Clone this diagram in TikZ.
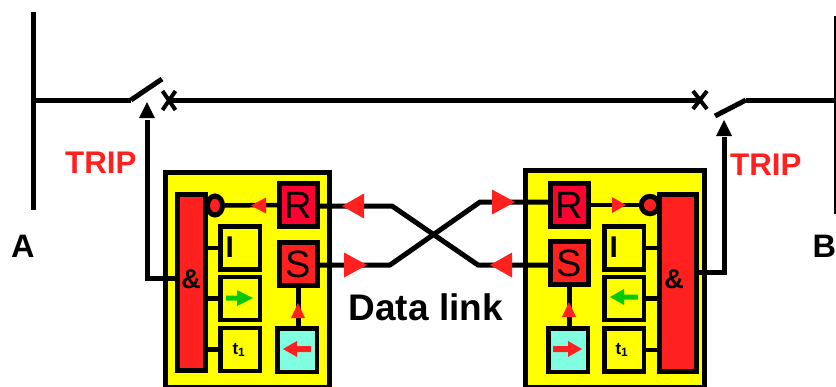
\documentclass[tikz,border=0pt]{standalone}
\usepackage{fontspec}
\setmainfont{Liberation Sans}
\usetikzlibrary{arrows.meta}
\definecolor{rd}{RGB}{255,32,32}
\definecolor{crim}{RGB}{255,0,48}
\definecolor{yel}{RGB}{255,255,0}
\definecolor{aqua}{RGB}{128,255,224}
\definecolor{grn}{RGB}{8,200,8}
\newcommand{\fs}[1]{\fontsize{#1}{#1}\selectfont}
\tikzset{x=1pt,y=-1pt,
 wire/.style={line width=5pt,draw=black},
 thin wire/.style={line width=4.5pt,draw=black},
 cross/.style={line width=4pt,draw=black},
 panel/.style={draw=black,line width=5pt,fill=yel,rectangle,anchor=north west,inner sep=0pt,outer sep=0pt},
 sbox/.style={draw=black,line width=5pt,rectangle,minimum width=38pt,minimum height=43pt,inner sep=0pt,outer sep=2.5pt,font=\fs{38}},
 cell/.style={draw=black,line width=4.5pt,fill=yel,rectangle,minimum width=39.5pt,minimum height=43pt,inner sep=0pt,outer sep=2.2pt},
 gate/.style={draw=black,line width=5pt,fill=rd,rectangle,inner sep=0pt,outer sep=2.5pt},
 tri/.style={fill=rd,draw=none},
 lbl/.style={font=\fs{31.3}\bfseries,text=rd,inner sep=0pt},
 blk/.style={font=\fs{32.5}\bfseries,inner sep=0pt}}
\begin{document}
\begin{tikzpicture}
\useasboundingbox (0,0) rectangle (836,386);
% panels (run past the lower edge and are clipped)
\begin{scope}
\clip (0,0) rectangle (836,386);
\node[panel,minimum width=163.5pt,minimum height=215pt] (pl) at (165.5,172.5) {};
\node[panel,minimum width=179pt,minimum height=217pt] (pr) at (525.5,170.5) {};
\end{scope}
% line
\coordinate (busAt) at (33.5,12); \coordinate (busAb) at (33.5,210);
\coordinate (busBt) at (835,16); \coordinate (busBb) at (835,214);
\draw[wire] (busAt) -- (busAb);
\draw[line width=2.4pt] (busBt) -- (busBb);
\coordinate (swAl) at (131,100); \coordinate (swAr) at (162,79);
\coordinate (swBl) at (715,116); \coordinate (swBr) at (746,100);
\coordinate (xA) at (169,100); \coordinate (xB) at (700,100);
\draw[wire] (33,100) -- (swAl);
\draw[wire] (swAl) -- (swAr);
\draw[wire] (xA) -- (xB);
\draw[wire] (swBl) -- (swBr);
\draw[wire] (swBr) -- (835,100);
\draw[cross] (162.5,110) -- (175.5,91);
\draw[cross] (162.5,91) -- (175.5,110);
\draw[cross] (693,91) -- (707,109);
\draw[cross] (707,91) -- (693,109);
% left gate and cells
\node[gate,minimum width=27.5pt,minimum height=176pt] (gl) at (191.7,282.5) {};
\node[inner sep=0pt,font=\fs{27}\bfseries] at (191,279) {\&};
\node[sbox,fill=crim] (Rl) at (298.5,205) {R};
\node[sbox,fill=rd] (Sl) at (298.5,264) {S};
\node[cell] (Il) at (240,248) {};
\node[cell] (Al) at (240,298.5) {};
\node[cell] (Tl) at (240,349.5) {};
\node[cell,fill=aqua,minimum width=39.5pt,minimum height=43.5pt] (Cl) at (297,350) {};
\node[inner sep=0pt,font=\fs{30}\bfseries,anchor=west] at (225.5,247) {I};
\node[inner sep=0pt,font=\fs{17}\bfseries] at (239,350) {t\textsubscript{\fs{12}1}};
\draw[fill=rd,line width=5pt] (215,205.5) ellipse [x radius=7.5,y radius=9.5];
\draw[wire] (gl.west |- 278,278) -- (147,278) -- (147,120);
% right gate and cells
\node[gate,minimum width=37pt,minimum height=177pt] (gr) at (678,283) {};
\node[inner sep=0pt,font=\fs{27}\bfseries] at (674,279) {\&};
\node[sbox,fill=crim] (Rr) at (569.5,205) {R};
\node[sbox,fill=rd] (Sr) at (569.5,263) {S};
\node[cell] (Ir) at (624,248) {};
\node[cell] (Ar) at (624,298.5) {};
\node[cell] (Tr) at (624,350) {};
\node[cell,fill=aqua,minimum height=43.5pt] (Cr) at (568,350) {};
\node[inner sep=0pt,font=\fs{30}\bfseries,anchor=west] at (609.5,247) {I};
\node[inner sep=0pt,font=\fs{17}\bfseries] at (622,350) {t\textsubscript{\fs{12}1}};
\draw[wire] (gr.east |- 700,272) -- (724,272) -- (724,137);
% stubs
\draw[thin wire] (Il.west) -- (Il.west -| gl.east);
\draw[thin wire] (Al.west) -- (Al.west -| gl.east);
\draw[thin wire] (Tl.west) -- (Tl.west -| gl.east);
\draw[thin wire] (Ir.east) -- (Ir.east -| gr.west);
\draw[thin wire] (Ar.east) -- (Ar.east -| gr.west);
\draw[thin wire] (Tr.east) -- (Tr.east -| gr.west);
\draw[wire] (Sl.south) -- (Sl.south |- Cl.north);
\draw[wire] (Sr.south) -- (Sr.south |- Cr.north);
% wires to inverters
\draw[thin wire] (Rl.west) -- (222,205.5);
\draw[wire,fill=rd] (650,205) circle (8.7);
\node[gate,minimum width=37pt,minimum height=177pt] at (678,283) {};
\node[inner sep=0pt,font=\fs{27}\bfseries] at (674,279) {\&};
\draw[thin wire] (Rr.east) -- (641,205);
% data link
\draw[wire,line join=round] (Rl.east |- 0,206) -- (392,206) -- (478,265) -- (Sr.west |- 0,265);
\draw[wire,line join=round] (Sl.east |- 0,265) -- (390,265) -- (480,202) -- (Rr.west |- 0,202);
% arrowheads
\fill[tri] (251,205.5) -- (266,197.5) -- (266,213.5) -- cycle;
\fill[tri] (298,303) -- (291,318) -- (305,318) -- cycle;
\fill[tri] (342,206) -- (364,193.5) -- (364,218.5) -- cycle;
\fill[tri] (367,265) -- (344,252.5) -- (344,277.5) -- cycle;
\fill[tri] (515,202) -- (492,189.5) -- (492,214.5) -- cycle;
\fill[tri] (490,265) -- (512,252.5) -- (512,277.5) -- cycle;
\fill[tri] (626,205) -- (612,197) -- (612,213) -- cycle;
\fill[tri] (569,302) -- (562,317) -- (576,317) -- cycle;
\fill (147,102) -- (139,118) -- (155,118) -- cycle;
\fill (724,120) -- (716,136) -- (732,136) -- cycle;
% small arrows
\fill[grn] (226,295.5) -- (237,295.5) -- (237,290) -- (253,298) -- (237,306) -- (237,300.5) -- (226,300.5) -- cycle;
\fill[grn] (638,294.5) -- (624,294.5) -- (624,289) -- (610,297) -- (624,305) -- (624,299.5) -- (638,299.5) -- cycle;
\fill[rd] (311,346) -- (297,346) -- (297,341) -- (283,349) -- (297,357) -- (297,352) -- (311,352) -- cycle;
\fill[rd] (553,346) -- (568,346) -- (568,341) -- (582,349) -- (568,357) -- (568,352) -- (553,352) -- cycle;
% labels
\node[lbl,anchor=base west] (tripA) at (65,173.5) {TRIP};
\node[lbl,anchor=base west] (tripB) at (730,175.5) {TRIP};
\node[blk,anchor=base west] (A) at (11,257) {A};
\node[blk,anchor=base west] (B) at (812.3,257) {B};
\node[font=\fs{37}\bfseries,inner sep=0pt,anchor=base west] (dl) at (348.5,320) {Data link};
\end{tikzpicture}
\end{document}
